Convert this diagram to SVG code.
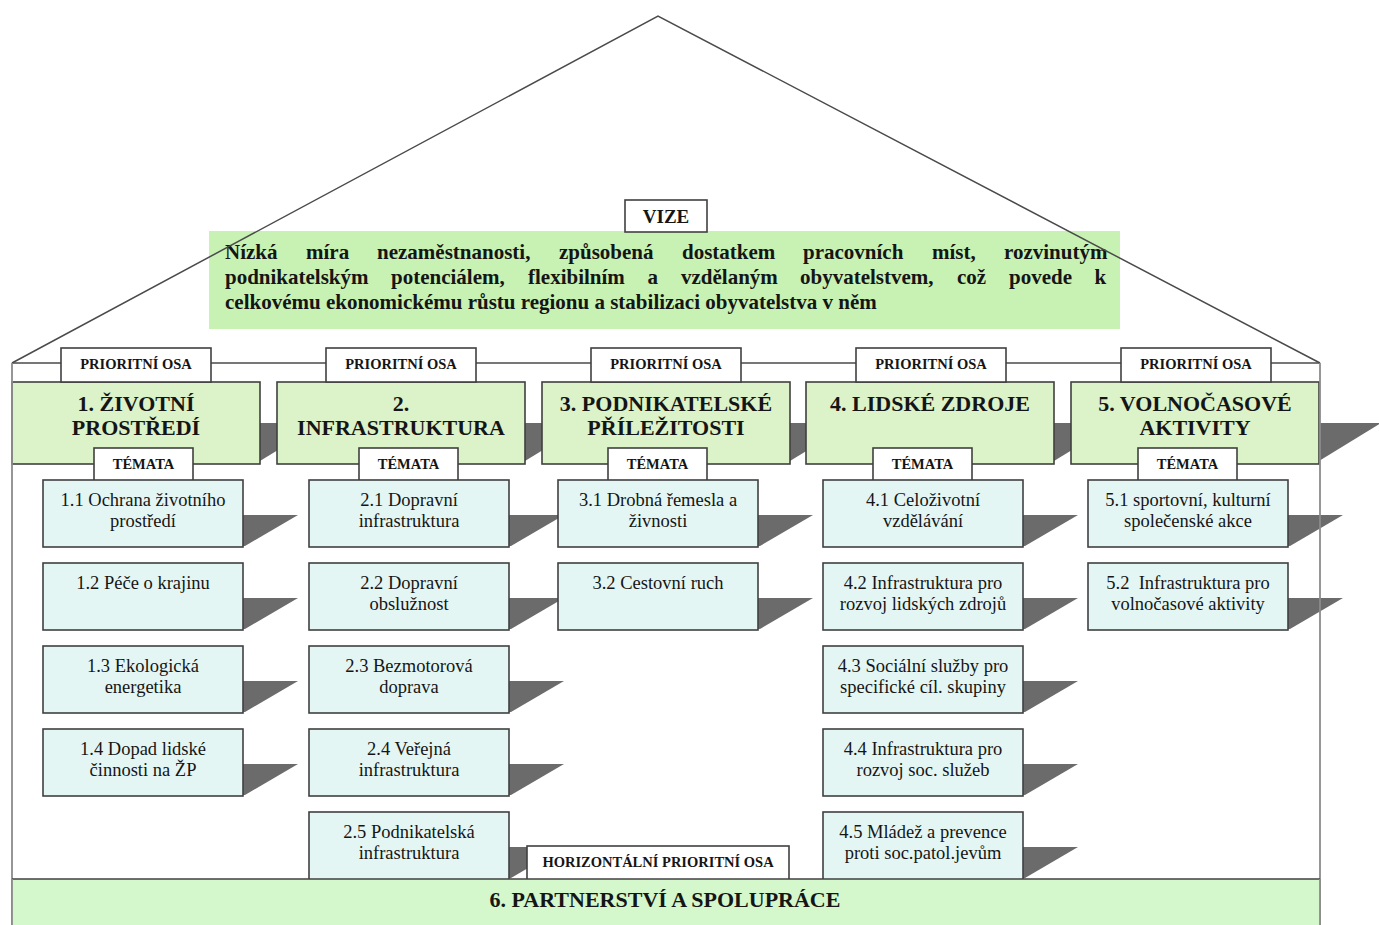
<svg xmlns="http://www.w3.org/2000/svg" width="1379" height="925" viewBox="0 0 1379 925">
<style>
.bx{stroke:#404040;stroke-width:1.6}
.g{fill:#dcf2c8}
.t{fill:#e4f6f4}
.w{fill:#ffffff}
.sh{fill:#6b6b6b}
.ln{stroke:#4a4a4a;stroke-width:1.5;fill:none}
.wall{stroke:#8c8c8c;stroke-width:1.8;fill:none}
text{font-family:"Liberation Serif","Times New Roman",serif;fill:#151515}
.ttl{font-size:22px;font-weight:bold;text-anchor:middle}
.lab{font-size:14.5px;font-weight:bold;text-anchor:middle}
.tp{font-size:18.5px;text-anchor:middle}
.viz{font-size:21px;font-weight:bold}
</style>
<rect width="1379" height="925" fill="#ffffff"/>
<g id="connectors">
<path class="ln" d="M12,363 H1320"/>
</g>
<g id="vision">
<rect x="209" y="231" width="911" height="98" fill="#c8f2b4"/>
<text class="viz">
<tspan y="259" x="225">Nízká</tspan><tspan x="306">míra</tspan><tspan x="377">nezaměstnanosti,</tspan><tspan x="559">způsobená</tspan><tspan x="682">dostatkem</tspan><tspan x="803">pracovních</tspan><tspan x="932">míst,</tspan><tspan x="1004">rozvinutým</tspan>
<tspan y="284" x="225">podnikatelským</tspan><tspan x="391">potenciálem,</tspan><tspan x="528">flexibilním</tspan><tspan x="647.5">a</tspan><tspan x="681">vzdělaným</tspan><tspan x="800">obyvatelstvem,</tspan><tspan x="957">což</tspan><tspan x="1009">povede</tspan><tspan x="1094.5">k</tspan>
<tspan y="309" x="225">celkovému ekonomickému růstu regionu a stabilizaci obyvatelstva v něm</tspan>
</text>
</g>
<g id="vize">
<rect class="bx w" x="625" y="200" width="82" height="32"/>
<text class="ttl" style="font-size:19px" x="666" y="223">VIZE</text>
</g>
<g id="axis-shadows">
<polygon class="sh" points="260,423 322,423 260,461"/>
<polygon class="sh" points="525,423 587,423 525,461"/>
<polygon class="sh" points="790,423 852,423 790,461"/>
<polygon class="sh" points="1054,423 1116,423 1054,461"/>
<polygon class="sh" points="1319,423 1381,423 1319,461"/>
</g>
<g id="axis1">
<rect class="bx g" x="12" y="382" width="248" height="82"/>
<text class="ttl" x="136" y="411">1. ŽIVOTNÍ</text>
<text class="ttl" x="136" y="435">PROSTŘEDÍ</text>
<rect class="bx w" x="61" y="348" width="150" height="34"/>
<text class="lab" x="136" y="369">PRIORITNÍ OSA</text>
</g>
<g id="axis2">
<rect class="bx g" x="277" y="382" width="248" height="82"/>
<text class="ttl" x="401" y="411">2.</text>
<text class="ttl" x="401" y="435">INFRASTRUKTURA</text>
<rect class="bx w" x="326" y="348" width="150" height="34"/>
<text class="lab" x="401" y="369">PRIORITNÍ OSA</text>
</g>
<g id="axis3">
<rect class="bx g" x="542" y="382" width="248" height="82"/>
<text class="ttl" x="666" y="411">3. PODNIKATELSKÉ</text>
<text class="ttl" x="666" y="435">PŘÍLEŽITOSTI</text>
<rect class="bx w" x="591" y="348" width="150" height="34"/>
<text class="lab" x="666" y="369">PRIORITNÍ OSA</text>
</g>
<g id="axis4">
<rect class="bx g" x="806" y="382" width="248" height="82"/>
<text class="ttl" x="930" y="411">4. LIDSKÉ ZDROJE</text>
<rect class="bx w" x="856" y="348" width="150" height="34"/>
<text class="lab" x="931" y="369">PRIORITNÍ OSA</text>
</g>
<g id="axis5">
<rect class="bx g" x="1071" y="382" width="248" height="82"/>
<text class="ttl" x="1195" y="411">5. VOLNOČASOVÉ</text>
<text class="ttl" x="1195" y="435">AKTIVITY</text>
<rect class="bx w" x="1121" y="348" width="150" height="34"/>
<text class="lab" x="1196" y="369">PRIORITNÍ OSA</text>
</g>
<g id="temata">
<rect class="bx w" x="94" y="448" width="99" height="33"/>
<text class="lab" x="143.5" y="469">TÉMATA</text>
<rect class="bx w" x="359" y="448" width="99" height="33"/>
<text class="lab" x="408.5" y="469">TÉMATA</text>
<rect class="bx w" x="608" y="448" width="99" height="33"/>
<text class="lab" x="657.5" y="469">TÉMATA</text>
<rect class="bx w" x="873" y="448" width="99" height="33"/>
<text class="lab" x="922.5" y="469">TÉMATA</text>
<rect class="bx w" x="1138" y="448" width="99" height="33"/>
<text class="lab" x="1187.5" y="469">TÉMATA</text>
</g>
<g id="topic-shadows">
<polygon class="sh" points="243,515 298,515 245,546 243,546"/>
<polygon class="sh" points="243,598 298,598 245,629 243,629"/>
<polygon class="sh" points="243,681 298,681 245,712 243,712"/>
<polygon class="sh" points="243,764 298,764 245,795 243,795"/>
<polygon class="sh" points="509,515 564,515 511,546 509,546"/>
<polygon class="sh" points="509,598 564,598 511,629 509,629"/>
<polygon class="sh" points="509,681 564,681 511,712 509,712"/>
<polygon class="sh" points="509,764 564,764 511,795 509,795"/>
<polygon class="sh" points="509,847 564,847 511,878 509,878"/>
<polygon class="sh" points="758,515 813,515 760,546 758,546"/>
<polygon class="sh" points="758,598 813,598 760,629 758,629"/>
<polygon class="sh" points="1023,515 1078,515 1025,546 1023,546"/>
<polygon class="sh" points="1023,598 1078,598 1025,629 1023,629"/>
<polygon class="sh" points="1023,681 1078,681 1025,712 1023,712"/>
<polygon class="sh" points="1023,764 1078,764 1025,795 1023,795"/>
<polygon class="sh" points="1023,847 1078,847 1025,878 1023,878"/>
<polygon class="sh" points="1288,515 1343,515 1290,546 1288,546"/>
<polygon class="sh" points="1288,598 1343,598 1290,629 1288,629"/>
</g>
<g id="t11"><rect class="bx t" x="43" y="480" width="200" height="67"/><text class="tp" x="143" y="506">1.1 Ochrana životního</text><text class="tp" x="143" y="527">prostředí</text></g>
<g id="t12"><rect class="bx t" x="43" y="563" width="200" height="67"/><text class="tp" x="143" y="589">1.2 Péče o krajinu</text></g>
<g id="t13"><rect class="bx t" x="43" y="646" width="200" height="67"/><text class="tp" x="143" y="672">1.3 Ekologická</text><text class="tp" x="143" y="693">energetika</text></g>
<g id="t14"><rect class="bx t" x="43" y="729" width="200" height="67"/><text class="tp" x="143" y="755">1.4 Dopad lidské</text><text class="tp" x="143" y="776">činnosti na ŽP</text></g>
<g id="t21"><rect class="bx t" x="309" y="480" width="200" height="67"/><text class="tp" x="409" y="506">2.1 Dopravní</text><text class="tp" x="409" y="527">infrastruktura</text></g>
<g id="t22"><rect class="bx t" x="309" y="563" width="200" height="67"/><text class="tp" x="409" y="589">2.2 Dopravní</text><text class="tp" x="409" y="610">obslužnost</text></g>
<g id="t23"><rect class="bx t" x="309" y="646" width="200" height="67"/><text class="tp" x="409" y="672">2.3 Bezmotorová</text><text class="tp" x="409" y="693">doprava</text></g>
<g id="t24"><rect class="bx t" x="309" y="729" width="200" height="67"/><text class="tp" x="409" y="755">2.4 Veřejná</text><text class="tp" x="409" y="776">infrastruktura</text></g>
<g id="t25"><rect class="bx t" x="309" y="812" width="200" height="68"/><text class="tp" x="409" y="838">2.5 Podnikatelská</text><text class="tp" x="409" y="859">infrastruktura</text></g>
<g id="t31"><rect class="bx t" x="558" y="480" width="200" height="67"/><text class="tp" x="658" y="506">3.1 Drobná řemesla a</text><text class="tp" x="658" y="527">živnosti</text></g>
<g id="t32"><rect class="bx t" x="558" y="563" width="200" height="67"/><text class="tp" x="658" y="589">3.2 Cestovní ruch</text></g>
<g id="t41"><rect class="bx t" x="823" y="480" width="200" height="67"/><text class="tp" x="923" y="506">4.1 Celoživotní</text><text class="tp" x="923" y="527">vzdělávání</text></g>
<g id="t42"><rect class="bx t" x="823" y="563" width="200" height="67"/><text class="tp" x="923" y="589">4.2 Infrastruktura pro</text><text class="tp" x="923" y="610">rozvoj lidských zdrojů</text></g>
<g id="t43"><rect class="bx t" x="823" y="646" width="200" height="67"/><text class="tp" x="923" y="672">4.3 Sociální služby pro</text><text class="tp" x="923" y="693">specifické cíl. skupiny</text></g>
<g id="t44"><rect class="bx t" x="823" y="729" width="200" height="67"/><text class="tp" x="923" y="755">4.4 Infrastruktura pro</text><text class="tp" x="923" y="776">rozvoj soc. služeb</text></g>
<g id="t45"><rect class="bx t" x="823" y="812" width="200" height="68"/><text class="tp" x="923" y="838">4.5 Mládež a prevence</text><text class="tp" x="923" y="859">proti soc.patol.jevům</text></g>
<g id="t51"><rect class="bx t" x="1088" y="480" width="200" height="67"/><text class="tp" x="1188" y="506">5.1 sportovní, kulturní</text><text class="tp" x="1188" y="527">společenské akce</text></g>
<g id="t52"><rect class="bx t" x="1088" y="563" width="200" height="67"/><text class="tp" x="1188" y="589">5.2&#160; Infrastruktura pro</text><text class="tp" x="1188" y="610">volnočasové aktivity</text></g>
<g id="house">
<path class="ln" d="M12,363 L658,16 L1320,363"/>
<path class="wall" d="M12,363 V925 M1320,363 V925"/>
</g>
<g id="horizontal">
<rect class="bx w" x="527" y="846" width="262" height="34"/>
<text class="lab" x="658" y="867">HORIZONTÁLNÍ PRIORITNÍ OSA</text>
</g>
<g id="axis6">
<rect x="12" y="879" width="1308" height="46" fill="#d4f7cc"/>
<path class="bx" d="M12,879 H1320" fill="none"/>
<path class="wall" d="M12,879 V925 M1320,879 V925"/>
<text class="ttl" x="665" y="907">6. PARTNERSTVÍ A SPOLUPRÁCE</text>
</g>
</svg>
